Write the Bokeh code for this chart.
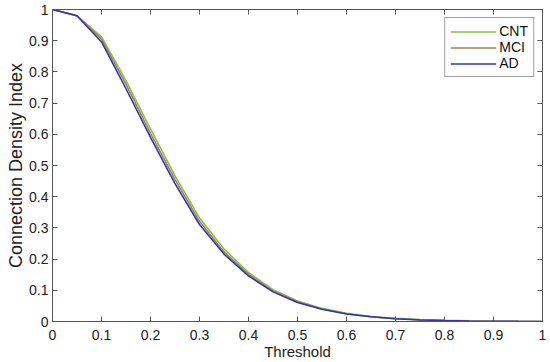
from bokeh.plotting import figure
from bokeh.models import LinearAxis, FixedTicker, Legend, LegendItem, Range1d
from bokeh.embed import file_html
from bokeh.resources import INLINE

threshold = [0.0, 0.05, 0.1, 0.15, 0.2, 0.25, 0.3, 0.35, 0.4, 0.45, 0.5,
             0.55, 0.6, 0.65, 0.7, 0.75, 0.8, 0.85, 0.9, 0.95, 1.0]
cnt = [1.0, 0.98, 0.912, 0.772, 0.617, 0.467, 0.332, 0.232, 0.157, 0.102, 0.066,
       0.042, 0.026, 0.016, 0.010, 0.006, 0.0035, 0.002, 0.001, 0.0004, 0.0]
mci = [1.0, 0.98, 0.905, 0.760, 0.603, 0.455, 0.321, 0.223, 0.151, 0.098, 0.063,
       0.040, 0.025, 0.015, 0.009, 0.0055, 0.003, 0.0018, 0.0009, 0.0003, 0.0]
ad = [1.0, 0.98, 0.896, 0.746, 0.590, 0.442, 0.311, 0.216, 0.146, 0.095, 0.061,
      0.039, 0.024, 0.015, 0.009, 0.005, 0.003, 0.0017, 0.0008, 0.0003, 0.0]
series_names = ["CNT", "MCI", "AD"]
series_colors = ["#84c441", "#a2805c", "#3434b8"]
ticks = [0, 0.1, 0.2, 0.3, 0.4, 0.5, 0.6, 0.7, 0.8, 0.9, 1]
tick_labels = {0: "0", 0.1: "0.1", 0.2: "0.2", 0.3: "0.3", 0.4: "0.4", 0.5: "0.5",
               0.6: "0.6", 0.7: "0.7", 0.8: "0.8", 0.9: "0.9", 1: "1"}

FONT = "Liberation Sans"
AXC = "#555555"

p = figure(width=550, height=362, output_backend="svg", toolbar_location=None,
           x_range=Range1d(0, 1), y_range=Range1d(0, 1),
           min_border_left=52, min_border_right=8, min_border_top=9, min_border_bottom=39,
           x_axis_label="Threshold", y_axis_label="Connection Density Index")
p.grid.visible = False
p.outline_line_color = AXC
p.outline_line_width = 1
p.background_fill_color = "white"
p.border_fill_color = "white"

for ax in (p.xaxis[0], p.yaxis[0]):
    ax.ticker = FixedTicker(ticks=ticks)
    ax.major_label_overrides = tick_labels
    ax.major_tick_in = 5
    ax.major_tick_out = 0
    ax.minor_tick_line_color = None
    ax.axis_line_color = AXC
    ax.major_tick_line_color = AXC
    ax.major_label_text_font = FONT
    ax.major_label_text_font_size = "14px"
    ax.major_label_text_color = "#222222"
    ax.axis_label_text_font = FONT
    ax.axis_label_text_font_style = "normal"
    ax.axis_label_text_color = "#222222"
p.xaxis[0].axis_label_text_font_size = "15px"
p.yaxis[0].axis_label_text_font_size = "18px"
p.xaxis[0].major_label_standoff = 8
p.xaxis[0].axis_label_standoff = 0
p.yaxis[0].major_label_standoff = 4
p.yaxis[0].axis_label_standoff = 0

for loc in ("above", "right"):
    ax2 = LinearAxis(ticker=FixedTicker(ticks=ticks))
    ax2.major_label_overrides = {t: "" for t in ticks}
    ax2.major_tick_in = 5
    ax2.major_tick_out = 0
    ax2.minor_tick_line_color = None
    ax2.axis_line_color = AXC
    ax2.major_tick_line_color = AXC
    ax2.major_label_standoff = 0
    ax2.axis_label_standoff = 0
    ax2.major_label_text_font_size = "1px"
    p.add_layout(ax2, loc)

renderers = []
for name, ys, col in zip(series_names, [cnt, mci, ad], series_colors):
    r = p.line(threshold, ys, line_color=col, line_width=1.6)
    renderers.append((name, r))

legend = Legend(items=[LegendItem(label=n, renderers=[r]) for n, r in renderers],
                location="top_right")
legend.label_text_font = FONT
legend.label_text_font_size = "14px"
legend.label_text_color = "#111111"
legend.border_line_color = "#444444"
legend.border_line_width = 1
legend.glyph_width = 46
legend.glyph_height = 15
legend.label_height = 15
legend.spacing = 0
legend.padding = 5
legend.margin = 8
legend.label_standoff = 3
p.add_layout(legend)

open("out.html", "w").write(file_html(p, INLINE))
